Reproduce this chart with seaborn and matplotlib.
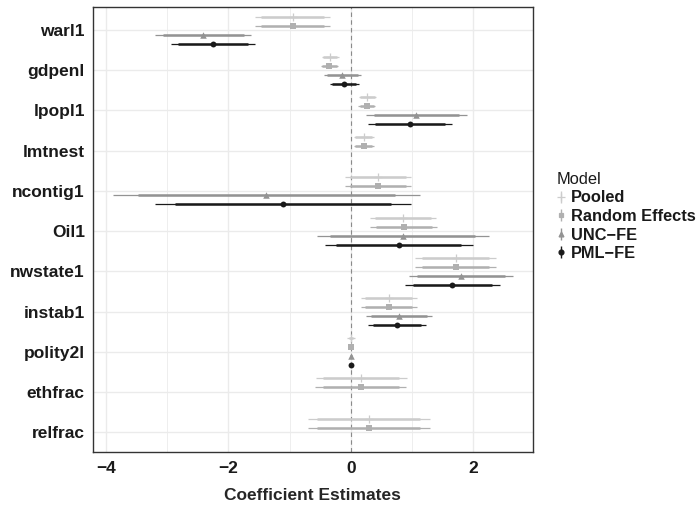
import numpy as np
import matplotlib
matplotlib.use("Agg")
import matplotlib.pyplot as plt
from matplotlib.lines import Line2D
import pandas as pd
import seaborn as sns

variables = ["warl1", "gdpenl", "lpopl1", "lmtnest", "ncontig1", "Oil1",
             "nwstate1", "instab1", "polity2l", "ethfrac", "relfrac"]
models = ["Pooled", "Random Effects", "UNC\u2212FE", "PML\u2212FE"]

# point estimates (nan = not estimated)
est_pooled = [-0.95, -0.34, 0.27, 0.21, 0.44, 0.85, 1.71, 0.62, 0.01, 0.17, 0.29]
est_re     = [-0.95, -0.35, 0.26, 0.21, 0.44, 0.86, 1.71, 0.62, 0.01, 0.16, 0.29]
est_unc    = [-2.41, -0.14, 1.07, np.nan, -1.38, 0.85, 1.80, 0.79, 0.00, np.nan, np.nan]
est_pml    = [-2.25, -0.11, 0.97, np.nan, -1.11, 0.78, 1.66, 0.75, 0.00, np.nan, np.nan]

# standard errors
se_pooled = [0.314, 0.071, 0.071, 0.082, 0.276, 0.278, 0.337, 0.235, 0.020, 0.378, 0.508]
se_re     = [0.314, 0.071, 0.071, 0.082, 0.276, 0.278, 0.337, 0.235, 0.015, 0.378, 0.508]
se_unc    = [0.400, 0.156, 0.420, np.nan, 1.278, 0.720, 0.434, 0.276, 0.010, np.nan, np.nan]
se_pml    = [0.347, 0.120, 0.350, np.nan, 1.069, 0.617, 0.393, 0.240, 0.010, np.nan, np.nan]

colors = ["#cccccc", "#b0b0b0", "#939393", "#1a1a1a"]
markers = ["+", "s", "^", "o"]
msizes = [40, 22, 22, 18]

rows = []
for m, e, s in zip(models, [est_pooled, est_re, est_unc, est_pml],
                   [se_pooled, se_re, se_unc, se_pml]):
    for i, v in enumerate(variables):
        rows.append({"variable": v, "Model": m, "est": e[i], "se": s[i]})
df = pd.DataFrame(rows).dropna()
df["var_idx"] = df["variable"].map({v: i for i, v in enumerate(variables)})
df["mod_idx"] = df["Model"].map({m: i for i, m in enumerate(models)})
df["ypos"] = df["var_idx"] + (df["mod_idx"] - 1.5) * 0.225
df["lo95"] = df["est"] - 1.96 * df["se"]
df["hi95"] = df["est"] + 1.96 * df["se"]
df["lo90"] = df["est"] - 1.645 * df["se"]
df["hi90"] = df["est"] + 1.645 * df["se"]

sns.set_theme(style="whitegrid")
plt.rcParams["font.family"] = ["Liberation Sans", "DejaVu Sans"]

fig, ax = plt.subplots(figsize=(7.0, 5.11), dpi=100)
fig.subplots_adjust(left=0.133, right=0.761, top=0.986, bottom=0.115)

ax.axvline(0, color="#8a8a8a", lw=0.8, ls=(0, (4, 3)), zorder=1)

for j, m in enumerate(models):
    sub = df[df["Model"] == m]
    ax.hlines(sub["ypos"], sub["lo95"], sub["hi95"], color=colors[j], lw=0.9, zorder=2)
    ax.hlines(sub["ypos"], sub["lo90"], sub["hi90"], color=colors[j], lw=1.8, zorder=2)
    sns.scatterplot(data=sub, x="est", y="ypos", marker=markers[j], color=colors[j],
                    s=msizes[j], linewidth=0 if markers[j] != "+" else 0.9,
                    edgecolor=colors[j], ax=ax, zorder=3, legend=False)

ax.set_xlim(-4.21, 2.97)
ax.set_ylim(10.5, -0.57)
ax.set_xticks([-4, -2, 0, 2])
ax.set_xticklabels(["\u22124", "\u22122", "0", "2"])
ax.set_xticks([-3, -1, 1], minor=True)
ax.set_yticks(range(len(variables)))
ax.set_yticklabels(variables)

ax.grid(which="major", color="#ebebeb", lw=1.0)
ax.grid(which="minor", axis="x", color="#ebebeb", lw=0.6)
ax.set_axisbelow(True)
for sp in ax.spines.values():
    sp.set_color("#333333")
    sp.set_linewidth(1.0)
ax.tick_params(axis="both", which="major", length=3, width=0.8, color="#333333",
               labelsize=12.5, labelcolor="#1a1a1a", pad=3)
ax.tick_params(axis="both", which="minor", length=0)
for lab in ax.get_xticklabels() + ax.get_yticklabels():
    lab.set_fontweight("bold")

ax.set_xlabel("Coefficient Estimates", fontsize=12.5, fontweight="bold", labelpad=9)
ax.set_ylabel("")

handles = []
for j in range(len(models)):
    vline = Line2D([], [], color=colors[j], marker="|", markersize=8, linestyle="None",
                   markeredgewidth=1.0)
    pt = Line2D([], [], color=colors[j], marker=markers[j], linestyle="None",
                markersize=3.5 if markers[j] != "+" else 6, markeredgewidth=0.9)
    handles.append((vline, pt))
leg = fig.legend(handles, models, title="Model", loc="upper left",
                 bbox_to_anchor=(0.795, 0.664), frameon=False, fontsize=11.8,
                 title_fontsize=11.8, handlelength=0.6, handletextpad=0.3,
                 labelspacing=0.22, alignment="left", borderaxespad=0,
                 borderpad=0)
for t in leg.get_texts():
    t.set_fontweight("bold")
    t.set_color("#1a1a1a")
leg.get_title().set_color("#1a1a1a")

fig.savefig("out.png", dpi=100)
